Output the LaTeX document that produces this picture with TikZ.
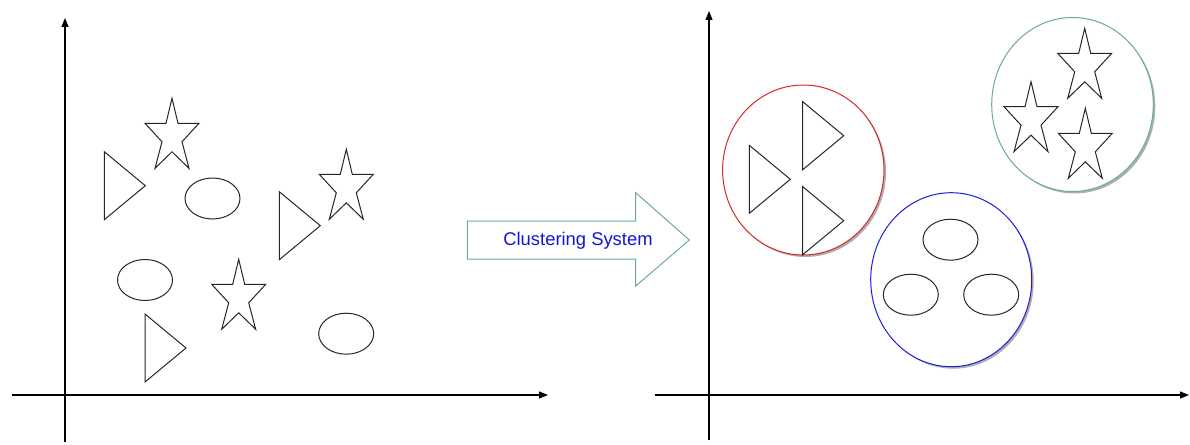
\documentclass[tikz,border=0pt]{standalone}
\usepackage{fontspec}
\setsansfont{Liberation Sans}
\usetikzlibrary{arrows.meta,shadows}

\definecolor{clred}{RGB}{214,40,40}
\definecolor{clgreen}{RGB}{103,171,159}
\definecolor{clblue}{RGB}{30,30,220}
\definecolor{cltext}{RGB}{20,20,210}

\tikzset{
    axis/.style={line width=1.2pt, -{Triangle[length=9pt,width=7pt]}},
    item/.style={line width=1pt, black!85},
    cluster/.style={line width=1pt, fill=white,
        drop shadow={shadow xshift=2pt, shadow yshift=-2pt, fill=black!45, opacity=0.7}},
}

% star outline, (#1,#2) = top left corner of its 54 x 70 box
\newcommand{\starat}[2]{%
    \draw[item, shift={(#1,#2)}] (27,0) -- (33,25) -- (54,25) -- (37,43.5) -- (44,70)
        -- (27,53.5) -- (10,70) -- (17,43.5) -- (0,25) -- (21,25) -- cycle;}
% triangle pointing right, (#1,#2) = top left vertex
\newcommand{\triat}[2]{%
    \draw[item, shift={(#1,#2)}] (0,0) -- (41,34) -- (0,68) -- cycle;}
% small ellipse, (#1,#2) = centre
\newcommand{\ellat}[2]{%
    \draw[item] (#1,#2) ellipse [x radius=27.5pt, y radius=20.5pt];}

\begin{document}
\begin{tikzpicture}[x=1pt, y=-1pt]
    \useasboundingbox (0,0) rectangle (1190,444);

    % linke Achsen
    \coordinate (LO) at (65,442);
    \coordinate (LY) at (65,18);
    \coordinate (LS) at (12,395);
    \coordinate (LX) at (548,395);
    \draw[axis] (LO) -- (LY);
    \draw[axis] (LS) -- (LX);

    % ungeordnete Objekte
    \foreach \x/\y in {145/98.3, 319.3/149.3, 211.7/259.3} {
        \starat{\x}{\y}
    }
    \foreach \x/\y in {104.3/151.7, 279.3/191.7, 145/314} {
        \triat{\x}{\y}
    }
    \foreach \x/\y in {212.5/198.5, 145/280, 346.2/333.7} {
        \ellat{\x}{\y}
    }

    % Pfeil mit Beschriftung
    \draw[line width=1pt, clgreen] (467.3,221) -- (635.7,221) -- (635.7,192.7)
        -- (689.3,240) -- (635.7,286) -- (635.7,259) -- (467.3,259) -- cycle;
    \node[anchor=base, inner sep=0pt, text=cltext, font=\sffamily\fontsize{18.4}{22}\selectfont]
        (label) at (578,245.7) {Clustering System};

    % rechte Achsen
    \coordinate (RO) at (709,440);
    \coordinate (RY) at (709,11);
    \coordinate (RS) at (655,395);
    \coordinate (RX) at (1189,395);
    \draw[axis] (RO) -- (RY);
    \draw[axis] (RS) -- (RX);

    % Cluster
    \draw[cluster, draw=clred] (803.3,170) ellipse [x radius=80.7pt, y radius=85pt];
    \draw[cluster, draw=clgreen] (1072.5,104.5) ellipse [x radius=80.8pt, y radius=87pt];
    \draw[cluster, draw=clblue] (951.2,279.7) ellipse [x radius=80.5pt, y radius=87pt];

    \foreach \x/\y in {802.7/101.7, 749.3/145.3, 802.7/186.7} {
        \triat{\x}{\y}
    }
    \foreach \x/\y in {1057.7/28.3, 1004/81.7, 1058.3/108.3} {
        \starat{\x}{\y}
    }
    \foreach \x/\y in {950.5/239.7, 910.8/294.7, 991.2/294.7} {
        \ellat{\x}{\y}
    }
\end{tikzpicture}
\end{document}
